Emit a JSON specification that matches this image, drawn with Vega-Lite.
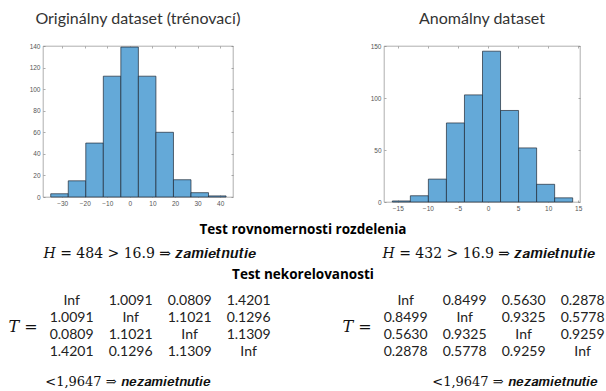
{
  "$schema": "https://vega.github.io/schema/vega-lite/v6.json",
  "background": "white",
  "padding": {"top": 10, "left": 0, "right": 0, "bottom": 0},
  "config": {"view": {"stroke": null}, "font": "Lato"},
  "datasets": {
    "origHist": [
      {"b0": -35.3, "b1": -27.53, "count": 3},
      {"b0": -27.53, "b1": -19.76, "count": 15},
      {"b0": -19.76, "b1": -11.99, "count": 50},
      {"b0": -11.99, "b1": -4.22, "count": 112},
      {"b0": -4.22, "b1": 3.55, "count": 139},
      {"b0": 3.55, "b1": 11.32, "count": 112},
      {"b0": 11.32, "b1": 19.09, "count": 60},
      {"b0": 19.09, "b1": 26.86, "count": 16},
      {"b0": 26.86, "b1": 34.63, "count": 4},
      {"b0": 34.63, "b1": 42.4, "count": 1}
    ],
    "anomHist": [
      {"b0": -16, "b1": -13, "count": 1},
      {"b0": -13, "b1": -10, "count": 6},
      {"b0": -10, "b1": -7, "count": 22},
      {"b0": -7, "b1": -4, "count": 76},
      {"b0": -4, "b1": -1, "count": 103},
      {"b0": -1, "b1": 2, "count": 145},
      {"b0": 2, "b1": 5, "count": 88},
      {"b0": 5, "b1": 8, "count": 52},
      {"b0": 8, "b1": 11, "count": 17},
      {"b0": 11, "b1": 14, "count": 4}
    ],
    "hTests": [
      {"side": "L", "txt": "𝐻 = 484 > 16.9  ⇒ 𝒛𝒂𝒎𝒊𝒆𝒕𝒏𝒖𝒕𝒊𝒆"},
      {"side": "R", "txt": "𝐻 = 432 > 16.9  ⇒ 𝒛𝒂𝒎𝒊𝒆𝒕𝒏𝒖𝒕𝒊𝒆"}
    ],
    "tLabels": [
      {"side": "L", "label": "𝑇 ="},
      {"side": "R", "label": "𝑇 ="}
    ],
    "tMatrix": [
      {"side": "L", "r": 1, "c": 1, "v": "Inf"},
      {"side": "L", "r": 1, "c": 2, "v": "1.0091"},
      {"side": "L", "r": 1, "c": 3, "v": "0.0809"},
      {"side": "L", "r": 1, "c": 4, "v": "1.4201"},
      {"side": "L", "r": 2, "c": 1, "v": "1.0091"},
      {"side": "L", "r": 2, "c": 2, "v": "Inf"},
      {"side": "L", "r": 2, "c": 3, "v": "1.1021"},
      {"side": "L", "r": 2, "c": 4, "v": "0.1296"},
      {"side": "L", "r": 3, "c": 1, "v": "0.0809"},
      {"side": "L", "r": 3, "c": 2, "v": "1.1021"},
      {"side": "L", "r": 3, "c": 3, "v": "Inf"},
      {"side": "L", "r": 3, "c": 4, "v": "1.1309"},
      {"side": "L", "r": 4, "c": 1, "v": "1.4201"},
      {"side": "L", "r": 4, "c": 2, "v": "0.1296"},
      {"side": "L", "r": 4, "c": 3, "v": "1.1309"},
      {"side": "L", "r": 4, "c": 4, "v": "Inf"},
      {"side": "R", "r": 1, "c": 1, "v": "Inf"},
      {"side": "R", "r": 1, "c": 2, "v": "0.8499"},
      {"side": "R", "r": 1, "c": 3, "v": "0.5630"},
      {"side": "R", "r": 1, "c": 4, "v": "0.2878"},
      {"side": "R", "r": 2, "c": 1, "v": "0.8499"},
      {"side": "R", "r": 2, "c": 2, "v": "Inf"},
      {"side": "R", "r": 2, "c": 3, "v": "0.9325"},
      {"side": "R", "r": 2, "c": 4, "v": "0.5778"},
      {"side": "R", "r": 3, "c": 1, "v": "0.5630"},
      {"side": "R", "r": 3, "c": 2, "v": "0.9325"},
      {"side": "R", "r": 3, "c": 3, "v": "Inf"},
      {"side": "R", "r": 3, "c": 4, "v": "0.9259"},
      {"side": "R", "r": 4, "c": 1, "v": "0.2878"},
      {"side": "R", "r": 4, "c": 2, "v": "0.5778"},
      {"side": "R", "r": 4, "c": 3, "v": "0.9259"},
      {"side": "R", "r": 4, "c": 4, "v": "Inf"}
    ],
    "concl": [
      {"side": "L", "txt": "<1,9647 ⇒ 𝒏𝒆𝒛𝒂𝒎𝒊𝒆𝒕𝒏𝒖𝒕𝒊𝒆"},
      {"side": "R", "txt": "<1,9647 ⇒ 𝒏𝒆𝒛𝒂𝒎𝒊𝒆𝒕𝒏𝒖𝒕𝒊𝒆"}
    ],
    "blank": [{}]
  },
  "bounds": "full",
  "spacing": 10,
  "vconcat": [
    {
      "bounds": "flush",
      "spacing": 0,
      "hconcat": [
        {"width": 43, "height": 156, "data": {"name": "blank"}, "mark": {"type": "text", "text": ""}, "encoding": {}},
        {
          "width": 190, "height": 151,
          "title": {"text": "Originálny dataset (trénovací)", "font": "Lato", "fontSize": 16, "fontWeight": "normal", "color": "#333333", "frame": "group", "anchor": "middle", "baseline": "middle", "offset": 7.75},
          "view": {"stroke": "#8c8c8c", "strokeWidth": 0.7},
          "data": {"name": "origHist"},
          "layer": [
            {
              "mark": {"type": "bar", "fill": "#64a9d8", "stroke": "#1f2a36", "strokeWidth": 0.7, "binSpacing": 0},
              "encoding": {
                "x": {"field": "b0", "type": "quantitative", "bin": "binned", "scale": {"domain": [-38.5, 45.7], "nice": false, "zero": false},
                  "axis": {"orient": "bottom", "values": [-30, -20, -10, 0, 10, 20, 30, 40], "title": null, "grid": false, "domain": false, "tickSize": -2, "tickColor": "#777777", "tickWidth": 0.6, "labelFont": "Liberation Sans", "labelFontSize": 6.5, "labelColor": "#555555", "labelPadding": 5}},
                "x2": {"field": "b1"},
                "y": {"field": "count", "type": "quantitative", "scale": {"domain": [0, 140], "nice": false},
                  "axis": {"orient": "left", "values": [0, 20, 40, 60, 80, 100, 120, 140], "title": null, "grid": false, "domain": false, "tickSize": -2, "tickColor": "#777777", "tickWidth": 0.6, "labelFont": "Liberation Sans", "labelFontSize": 6.5, "labelColor": "#555555", "labelPadding": 5}}
              }
            },
            {
              "mark": {"type": "bar", "opacity": 0, "binSpacing": 0},
              "encoding": {
                "x": {"field": "b0", "type": "quantitative", "bin": "binned", "axis": {"orient": "top", "values": [-30, -20, -10, 0, 10, 20, 30, 40], "title": null, "grid": false, "domain": false, "labels": false, "tickSize": -2, "tickColor": "#777777", "tickWidth": 0.6}},
                "x2": {"field": "b1"},
                "y": {"field": "count", "type": "quantitative", "axis": {"orient": "right", "values": [0, 20, 40, 60, 80, 100, 120, 140], "title": null, "grid": false, "domain": false, "labels": false, "tickSize": -2, "tickColor": "#777777", "tickWidth": 0.6}}
              }
            }
          ],
          "resolve": {"axis": {"x": "independent", "y": "independent"}}
        },
        {"width": 151, "height": 156, "data": {"name": "blank"}, "mark": {"type": "text", "text": ""}, "encoding": {}},
        {
          "width": 196, "height": 156,
          "title": {"text": "Anomálny dataset", "font": "Lato", "fontSize": 16, "fontWeight": "normal", "color": "#333333", "frame": "group", "anchor": "middle", "baseline": "middle", "offset": 7.75},
          "view": {"stroke": "#8c8c8c", "strokeWidth": 0.7},
          "data": {"name": "anomHist"},
          "layer": [
            {
              "mark": {"type": "bar", "fill": "#64a9d8", "stroke": "#1f2a36", "strokeWidth": 0.7, "binSpacing": 0},
              "encoding": {
                "x": {"field": "b0", "type": "quantitative", "bin": "binned", "scale": {"domain": [-17.3, 15.3], "nice": false, "zero": false},
                  "axis": {"orient": "bottom", "values": [-15, -10, -5, 0, 5, 10, 15], "title": null, "grid": false, "domain": false, "tickSize": -2, "tickColor": "#777777", "tickWidth": 0.6, "labelFont": "Liberation Sans", "labelFontSize": 6.5, "labelColor": "#555555", "labelPadding": 5}},
                "x2": {"field": "b1"},
                "y": {"field": "count", "type": "quantitative", "scale": {"domain": [0, 150], "nice": false},
                  "axis": {"orient": "left", "values": [0, 50, 100, 150], "title": null, "grid": false, "domain": false, "tickSize": -2, "tickColor": "#777777", "tickWidth": 0.6, "labelFont": "Liberation Sans", "labelFontSize": 6.5, "labelColor": "#555555", "labelPadding": 5}}
              }
            },
            {
              "mark": {"type": "bar", "opacity": 0, "binSpacing": 0},
              "encoding": {
                "x": {"field": "b0", "type": "quantitative", "bin": "binned", "axis": {"orient": "top", "values": [-15, -10, -5, 0, 5, 10, 15], "title": null, "grid": false, "domain": false, "labels": false, "tickSize": -2, "tickColor": "#777777", "tickWidth": 0.6}},
                "x2": {"field": "b1"},
                "y": {"field": "count", "type": "quantitative", "axis": {"orient": "right", "values": [0, 50, 100, 150], "title": null, "grid": false, "domain": false, "labels": false, "tickSize": -2, "tickColor": "#777777", "tickWidth": 0.6}}
              }
            }
          ],
          "resolve": {"axis": {"x": "independent", "y": "independent"}}
        }
      ]
    },
    {
      "bounds": "flush",
      "spacing": 16,
      "vconcat": [
        {
          "width": 606, "height": 44,
          "title": {"text": "Test rovnomernosti rozdelenia", "font": "Open Sans", "fontSize": 13.5, "fontWeight": "bold", "color": "#000000", "frame": "group", "anchor": "middle", "baseline": "middle", "offset": -11},
          "data": {"name": "hTests"},
          "mark": {"type": "text", "font": "DejaVu Serif", "fontSize": 14, "color": "#111111"},
          "encoding": {
            "x": {"field": "side", "type": "nominal", "scale": {"type": "point", "domain": ["L", "R"], "padding": 0.3938, "align": 0.5618}, "axis": null},
            "text": {"field": "txt"}
          }
        },
        {
          "width": 606, "height": 69,
          "title": {"text": "Test nekorelovanosti", "font": "Open Sans", "fontSize": 13.5, "fontWeight": "bold", "color": "#000000", "frame": "group", "anchor": "middle", "baseline": "middle", "offset": 3.5},
          "layer": [
            {
              "data": {"name": "tMatrix"},
              "mark": {"type": "text", "font": "Lato", "fontSize": 14, "color": "#222222"},
              "encoding": {
                "x": {"field": "side", "type": "nominal", "scale": {"type": "band", "domain": ["L", "R"], "paddingInner": 0.4, "paddingOuter": 0.1072, "align": 1}, "axis": null},
                "xOffset": {"field": "c", "type": "ordinal", "scale": {"type": "point", "padding": 0.1985, "align": 0}},
                "y": {"field": "r", "type": "ordinal", "scale": {"type": "point", "padding": 0.53}, "axis": null},
                "text": {"field": "v"}
              }
            },
            {
              "data": {"name": "tLabels"},
              "mark": {"type": "text", "font": "DejaVu Serif", "fontSize": 16, "align": "right", "dx": -34, "color": "#111111"},
              "encoding": {
                "x": {"field": "side", "type": "nominal", "bandPosition": 0},
                "text": {"field": "label"}
              }
            }
          ]
        },
        {
          "width": 606, "height": 10,
          "data": {"name": "concl"},
          "mark": {"type": "text", "font": "DejaVu Serif", "fontSize": 13, "color": "#111111"},
          "encoding": {
            "x": {"field": "side", "type": "nominal", "scale": {"type": "point", "domain": ["L", "R"], "padding": 0.28295, "align": 0.5845}, "axis": null},
            "text": {"field": "txt"}
          }
        }
      ]
    }
  ]
}
